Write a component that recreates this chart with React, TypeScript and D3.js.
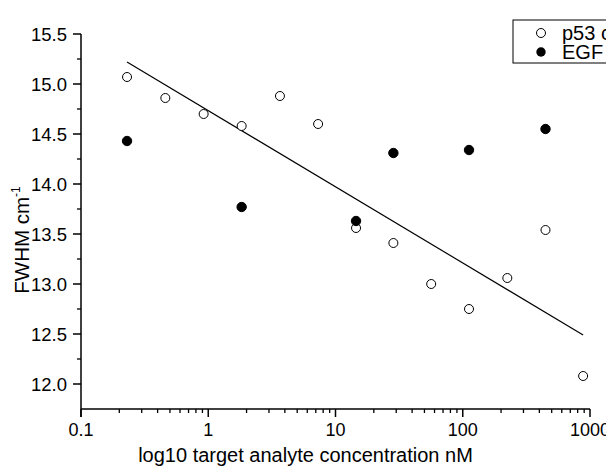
import React from "react";
import * as d3 from "d3";

const p53Conc = [0.23, 0.46, 0.92, 1.83, 3.66, 7.3, 14.5, 28.5, 56.5, 112, 224, 447, 883];
const p53Fwhm = [15.07, 14.86, 14.7, 14.58, 14.88, 14.6, 13.56, 13.41, 13.0, 12.75, 13.06, 13.54, 12.08];
const egfConc = [0.23, 1.83, 14.5, 28.5, 112, 447];
const egfFwhm = [14.43, 13.77, 13.63, 14.31, 14.34, 14.55];
const fitConc = [0.23, 883];
const fitFwhm = [15.22, 12.49];
const xTickValues = [0.1, 1, 10, 100, 1000];
const xTickLabels = ["0.1", "1", "10", "100", "1000"];
const yTickValues = [12.0, 12.5, 13.0, 13.5, 14.0, 14.5, 15.0, 15.5];
const yTickLabels = ["12.0", "12.5", "13.0", "13.5", "14.0", "14.5", "15.0", "15.5"];
const legendLabels = ["p53 concentration", "EGF concentration"];
const xTitle = "log10 target analyte concentration nM";

const W = 606;
const H = 468;
const FONT = "'Liberation Sans', Arial, sans-serif";

export default function App() {
  const x = d3.scaleLog().domain([0.1, 1000]).range([81, 590]);
  const y = d3.scaleLinear().domain([11.75, 15.5]).range([409, 34]);

  const minorX: number[] = [];
  for (let e = -1; e < 3; e++) {
    for (let k = 2; k <= 9; k++) minorX.push(k * Math.pow(10, e));
  }
  const minorY: number[] = d3.range(12.25, 15.5, 0.5);

  const line = d3
    .line<[number, number]>()
    .x((d) => x(d[0]))
    .y((d) => y(d[1]));
  const fitPts: [number, number][] = fitConc.map((c, i) => [c, fitFwhm[i]]);

  const x0 = x.range()[0];
  const y0 = y.range()[0];

  return (
    <svg
      width={W}
      height={H}
      style={{ position: "absolute", left: 0, top: 0, background: "#fff" }}
      fontFamily={FONT}
    >
      <rect x={0} y={0} width={W} height={H} fill="#fff" />
      {/* axes */}
      <line x1={x0} x2={x0} y1={y.range()[1]} y2={y0 + 8} stroke="#000" strokeWidth={1.5} />
      <line x1={x0} x2={x.range()[1]} y1={y0} y2={y0} stroke="#000" strokeWidth={1.5} />
      {/* x ticks */}
      {xTickValues.map((v, i) => (
        <g key={"xt" + i}>
          <line x1={x(v)} x2={x(v)} y1={y0} y2={y0 + 8} stroke="#000" strokeWidth={1.5} />
          <text x={x(v)} y={436} textAnchor="middle" fontSize={18} fill="#000">
            {xTickLabels[i]}
          </text>
        </g>
      ))}
      {minorX.map((v, i) => (
        <line key={"xm" + i} x1={x(v)} x2={x(v)} y1={y0} y2={y0 + 4} stroke="#000" strokeWidth={1.3} />
      ))}
      {/* y ticks */}
      {yTickValues.map((v, i) => (
        <g key={"yt" + i}>
          <line x1={x0 - 8} x2={x0} y1={y(v)} y2={y(v)} stroke="#000" strokeWidth={1.5} />
          <text x={67} y={y(v) + 6.6} textAnchor="end" fontSize={18.5} fill="#000">
            {yTickLabels[i]}
          </text>
        </g>
      ))}
      {minorY.map((v, i) => (
        <line key={"ym" + i} x1={x0 - 4} x2={x0} y1={y(v)} y2={y(v)} stroke="#000" strokeWidth={1.3} />
      ))}
      {/* titles */}
      <text x={(x0 + x.range()[1]) / 2 - 30} y={462} textAnchor="middle" fontSize={20} fill="#000">
        {xTitle}
      </text>
      <text
        transform={`translate(29, 240) rotate(-90)`}
        textAnchor="middle"
        fontSize={20.5}
        fill="#000"
      >
        FWHM cm
        <tspan fontSize={12} dy={-9}>
          -1
        </tspan>
      </text>
      {/* fit line */}
      <path d={line(fitPts) || ""} fill="none" stroke="#000" strokeWidth={1.2} />
      {/* points */}
      {p53Conc.map((c, i) => (
        <circle key={"p" + i} cx={x(c)} cy={y(p53Fwhm[i])} r={4.5} fill="#fff" stroke="#000" strokeWidth={1} />
      ))}
      {egfConc.map((c, i) => (
        <circle key={"e" + i} cx={x(c)} cy={y(egfFwhm[i])} r={4.7} fill="#000" stroke="#000" strokeWidth={1} />
      ))}
      {/* legend */}
      <rect x={513} y={20} width={120} height={43} fill="none" stroke="#000" strokeWidth={1} />
      <circle cx={541} cy={33} r={4.5} fill="#fff" stroke="#000" strokeWidth={1} />
      <circle cx={541} cy={52} r={4.7} fill="#000" />
      <text x={562} y={40} fontSize={20} fill="#000">
        {legendLabels[0]}
      </text>
      <text x={562} y={59} fontSize={20} fill="#000">
        {legendLabels[1]}
      </text>
    </svg>
  );
}
